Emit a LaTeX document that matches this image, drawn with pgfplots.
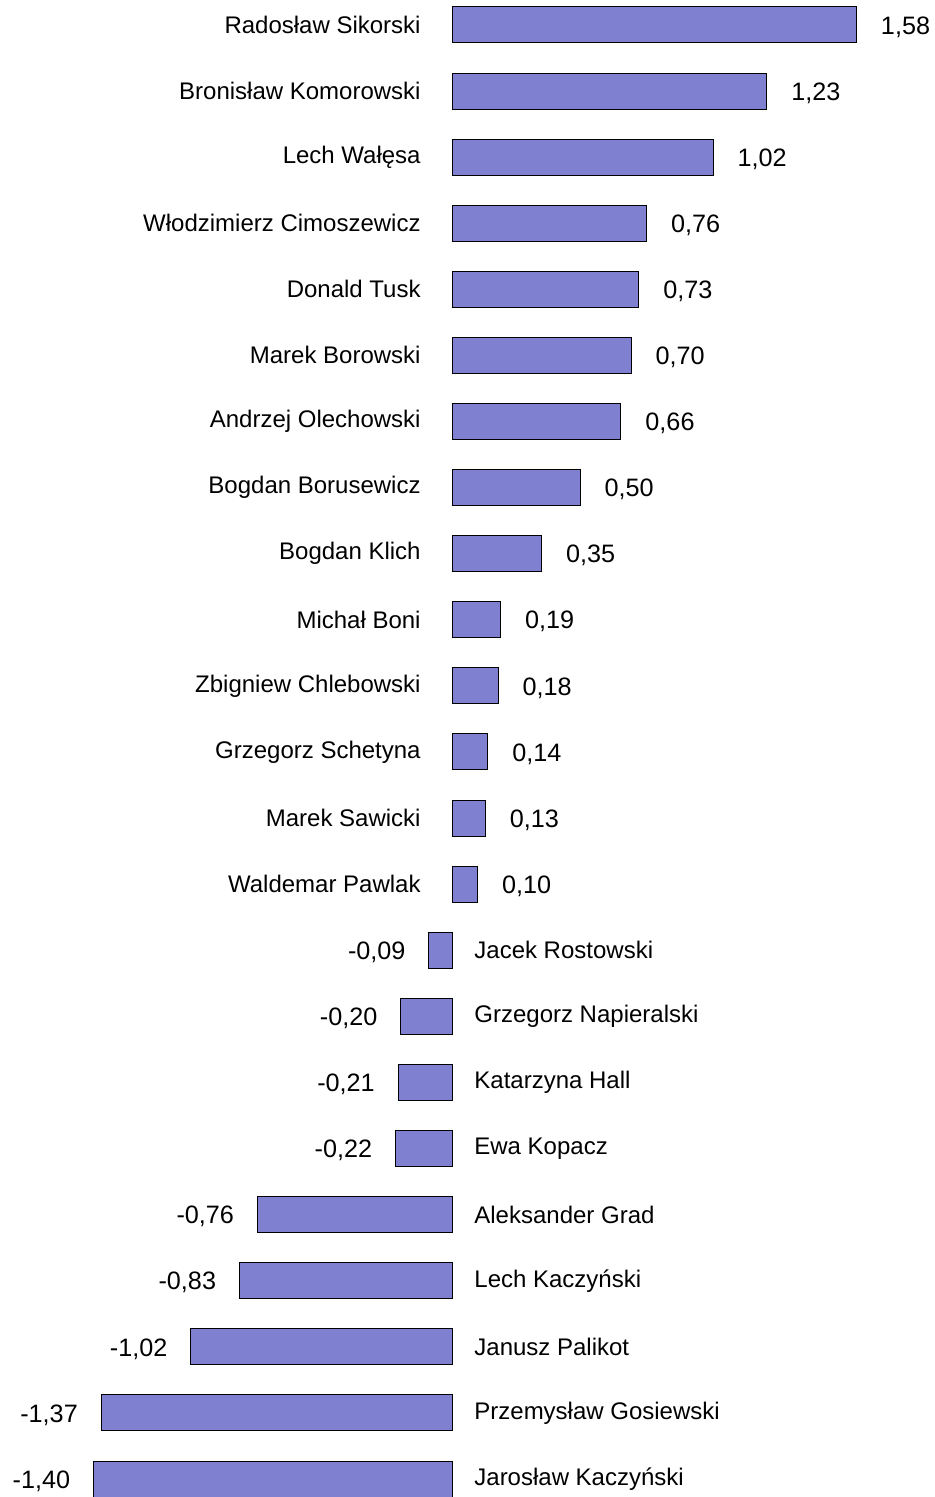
\documentclass[border=0pt]{standalone}
\usepackage{fontspec}
\setmainfont{Liberation Sans}
\usepackage{pgfplots}
\usepackage{pgfplotstable}
\pgfplotsset{compat=1.18}

\definecolor{barblue}{RGB}{128,128,208}

% y = position from bottom, x = value
\pgfplotstableread[col sep=semicolon]{
y;x;name
22;1.58;Radosław Sikorski
21;1.23;Bronisław Komorowski
20;1.02;Lech Wałęsa
19;0.76;Włodzimierz Cimoszewicz
18;0.73;Donald Tusk
17;0.70;Marek Borowski
16;0.66;Andrzej Olechowski
15;0.50;Bogdan Borusewicz
14;0.35;Bogdan Klich
13;0.19;Michał Boni
12;0.18;Zbigniew Chlebowski
11;0.14;Grzegorz Schetyna
10;0.13;Marek Sawicki
9;0.10;Waldemar Pawlak
}\pos

\pgfplotstableread[col sep=semicolon]{
y;x;name
8;-0.09;Jacek Rostowski
7;-0.20;Grzegorz Napieralski
6;-0.21;Katarzyna Hall
5;-0.22;Ewa Kopacz
4;-0.76;Aleksander Grad
3;-0.83;Lech Kaczyński
2;-1.02;Janusz Palikot
1;-1.37;Przemysław Gosiewski
0;-1.40;Jarosław Kaczyński
}\neg

\begin{document}
\begin{tikzpicture}
\begin{axis}[
    name=ax,
    scale only axis,
    width=467.5pt, height=748.5pt,
    hide axis,
    clip=false,
    xmin=-1.7656, xmax=1.8867,
    ymin=-0.2723, ymax=22.378,
    /pgf/number format/assume math mode=true,
    every node near coord/.append style={font=\fontsize{12}{14}\selectfont, inner sep=0pt, text=black},
]
% bars, positive
\addplot[xbar, bar shift=0pt, bar width=18pt, fill=barblue, draw=black, line width=0.5pt,
    point meta=x,
    nodes near coords={\pgfmathprintnumber[fixed,fixed zerofill,precision=2,use comma]{\pgfplotspointmeta}},
    nodes near coords style={anchor=west, xshift=12pt, yshift=-1pt, font=\fontsize{12.6}{14}\selectfont}]
    table[x=x, y=y] {\pos};
% bars, negative
\addplot[xbar, bar shift=0pt, bar width=18pt, fill=barblue, draw=black, line width=0.5pt,
    point meta=x,
    nodes near coords={\pgfmathprintnumber[fixed,fixed zerofill,precision=2,use comma]{\pgfplotspointmeta}},
    nodes near coords style={anchor=east, xshift=-11.5pt, yshift=-1pt, font=\fontsize{12.6}{14}\selectfont}]
    table[x=x, y=y] {\neg};
% names
\addplot[draw=none, mark=none, point meta=explicit symbolic,
    nodes near coords, nodes near coords style={anchor=east, xshift=-15.5pt}]
    table[x expr=0, y=y, meta=name] {\pos};
\addplot[draw=none, mark=none, point meta=explicit symbolic,
    nodes near coords, nodes near coords style={anchor=west, xshift=11pt}]
    table[x expr=0, y=y, meta=name] {\neg};
\end{axis}
\pgfresetboundingbox
\path (ax.south west) rectangle (ax.north east);
\end{tikzpicture}
\end{document}
